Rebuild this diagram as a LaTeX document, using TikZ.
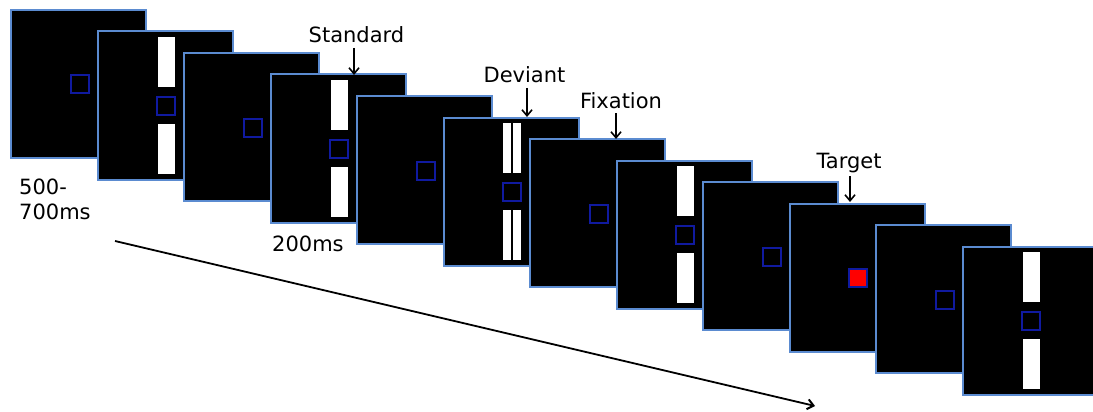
\documentclass[tikz,border=0pt]{standalone}
\usepackage{fontspec}
\setmainfont{DejaVu Sans}
\usetikzlibrary{arrows.meta}
\definecolor{framerim}{RGB}{91,139,208}
\definecolor{fixrim}{RGB}{16,26,160}
\definecolor{targetred}{RGB}{255,0,0}
\tikzset{
  screen/.style={draw=framerim, line width=2pt, fill=black, minimum width=135pt,
    minimum height=148pt, anchor=north west, inner sep=0pt, outer sep=0pt},
  fixbox/.style={draw=fixrim, line width=2pt, minimum size=18pt, inner sep=0pt},
  cue/.style={font=\fontsize{21}{25}\selectfont, anchor=base, inner sep=0pt},
  timelbl/.style={font=\fontsize{21}{25}\selectfont, anchor=base west, inner sep=0pt},
  cuearrow/.style={-{Straight Barb[length=6pt,width=10pt,line width=1.6pt]}, line width=1.6pt},
  timearrow/.style={-{Straight Barb[length=6pt,width=10pt,line width=2pt]}, line width=1.8pt},
}
% white bars of the stimulus screens, in screen-local coordinates
\newcommand\stdbars{%
  \fill[white] (60,5.5) rectangle (77,55.5);
  \fill[white] (60,92.5) rectangle (77,142);}
\newcommand\devbars{%
  \fill[white] (59,5.5) rectangle (67.3,55.5);
  \fill[white] (69.3,5.5) rectangle (77.6,55.5);
  \fill[white] (59,92.5) rectangle (67.3,142);
  \fill[white] (69.3,92.5) rectangle (77.6,142);}
\newcommand\nobars{}
\begin{document}
\begin{tikzpicture}[x=1pt,y=-1pt]
\useasboundingbox (0,0) rectangle (1093,412);
\clip (0,0) rectangle (1093,412);

% the sequence of screens, each drawn over the previous one
\foreach \i/\bars/\centrefill in {0/\nobars/none, 1/\stdbars/none, 2/\nobars/none,
    3/\stdbars/none, 4/\nobars/none, 5/\devbars/none, 6/\nobars/none, 7/\stdbars/none,
    8/\nobars/none, 9/\nobars/targetred, 10/\nobars/none, 11/\stdbars/none} {
  \begin{scope}[shift={({11+86.5*\i},{10+21.5*\i})}]
    \node[screen] (scr\i) at (0,0) {};
    \bars
    \node[fixbox, fill=\centrefill] (fix\i) at (68.5,74.5) {};
  \end{scope}
}

% event labels with their pointers
\node[cue] (lstd) at (356.5,43) {Standard};
\node[cue] (ldev) at (524.5,83) {Deviant};
\node[cue] (lfix) at (621,108) {Fixation};
\node[cue] (ltgt) at (849,168) {Target};
\coordinate (pstd) at (354,75);
\coordinate (pdev) at (527,117);
\coordinate (pfix) at (616,139);
\coordinate (ptgt) at (850,202);
\draw[cuearrow] ([yshift=-5pt]lstd.base -| pstd) -- (pstd);
\draw[cuearrow] ([yshift=-5pt]ldev.base -| pdev) -- (pdev);
\draw[cuearrow] ([yshift=-5pt]lfix.base -| pfix) -- (pfix);
\draw[cuearrow] ([yshift=-8pt]ltgt.base -| ptgt) -- (ptgt);

% durations
\node[timelbl] (t500) at (19,194) {500-};
\node[timelbl] (t700) at (19,219) {700ms};
\node[timelbl] (t200) at (272,251) {200ms};

% time axis
\coordinate (tstart) at (115,241);
\coordinate (tend) at (815,406);
\draw[timearrow] (tstart) -- (tend);
\end{tikzpicture}
\end{document}
